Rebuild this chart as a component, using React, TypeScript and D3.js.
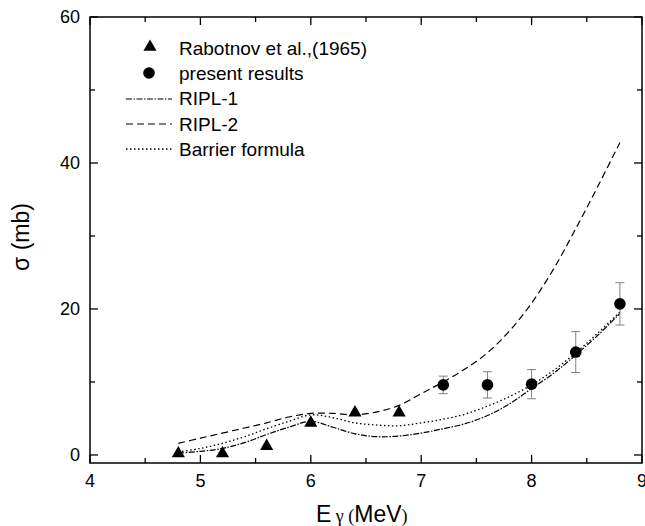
import React from "react";
import * as d3 from "d3";

const energies = [4.8, 5.0, 5.2, 5.4, 5.6, 5.8, 6.0, 6.2, 6.4, 6.6, 6.8, 7.0, 7.2, 7.4, 7.6, 7.8, 8.0, 8.2, 8.4, 8.6, 8.8];
const ripl1 = [0.25, 0.5, 0.9, 1.7, 2.8, 3.8, 4.6, 3.8, 2.9, 2.5, 2.6, 3.0, 3.6, 4.3, 5.4, 7.0, 9.1, 11.2, 13.7, 16.4, 19.4];
const ripl2 = [1.6, 2.3, 3.0, 3.7, 4.4, 5.2, 5.7, 5.7, 5.5, 5.9, 6.8, 8.4, 10.0, 11.8, 14.0, 17.0, 20.8, 25.5, 31.0, 36.8, 42.8];
const barrier = [0.4, 0.9, 1.6, 2.5, 3.6, 4.6, 5.5, 5.1, 4.4, 4.1, 4.0, 4.4, 4.9, 5.6, 6.7, 8.0, 9.6, 11.6, 14.0, 16.7, 19.6];

const rabotnovE = [4.8, 5.2, 5.6, 6.0, 6.4, 6.8];
const rabotnovS = [0.2, 0.2, 1.2, 4.4, 5.8, 5.8];

const presentE = [7.2, 7.6, 8.0, 8.4, 8.8];
const presentS = [9.6, 9.6, 9.7, 14.1, 20.7];
const presentLo = [8.4, 7.8, 7.7, 11.3, 17.8];
const presentHi = [10.8, 11.4, 11.7, 16.9, 23.6];

const xMajor = [4, 5, 6, 7, 8, 9];
const xMinor = [4.5, 5.5, 6.5, 7.5, 8.5];
const yMajor = [0, 20, 40, 60];
const yMinor = [10, 30, 50];

const legendLabels = ["Rabotnov et al.,(1965)", "present results", "RIPL-1", "RIPL-2", "Barrier formula"];

const FONT = "'Liberation Sans', Arial, Helvetica, sans-serif";

export default function App() {
  const L = 90, R = 642, T = 17, B = 463;
  const x = d3.scaleLinear().domain([4, 9]).range([L, R]);
  const y = d3.scaleLinear().domain([-1.1, 60]).range([B, T]);

  const mk = (vals: number[]) =>
    d3.line<number>()
      .x((_, i) => x(energies[i]))
      .y((v) => y(v))
      .curve(d3.curveCatmullRom.alpha(0.5))(vals) as string;

  const dashDot = "6,1.5,1.5,1.5";
  const dashed = "7,4";
  const dotted = "1.5,2.5";
  const tri = d3.symbol().type(d3.symbolTriangle).size(75)() as string;

  const major = 8, minor = 5;

  return (
    <svg width={645} height={526} style={{ position: "absolute", left: 0, top: 0, background: "#fff" }}>
      <rect x={0} y={0} width={645} height={526} fill="#fff" />
      {/* curves */}
      <path d={mk(ripl1)} fill="none" stroke="#000" strokeWidth={1.2} strokeDasharray={dashDot} />
      <path d={mk(ripl2)} fill="none" stroke="#000" strokeWidth={1.2} strokeDasharray={dashed} />
      <path d={mk(barrier)} fill="none" stroke="#000" strokeWidth={1.3} strokeDasharray={dotted} />

      {/* error bars */}
      {presentE.map((e, i) => (
        <g key={"eb" + i} stroke="#808080" strokeWidth={1}>
          <line x1={x(e)} x2={x(e)} y1={y(presentLo[i])} y2={y(presentHi[i])} />
          <line x1={x(e) - 4.5} x2={x(e) + 4.5} y1={y(presentLo[i])} y2={y(presentLo[i])} />
          <line x1={x(e) - 4.5} x2={x(e) + 4.5} y1={y(presentHi[i])} y2={y(presentHi[i])} />
        </g>
      ))}
      {presentE.map((e, i) => (
        <circle key={"c" + i} cx={x(e)} cy={y(presentS[i])} r={5.8} fill="#000" />
      ))}
      {rabotnovE.map((e, i) => (
        <path key={"t" + i} d={tri} transform={`translate(${x(e)},${y(rabotnovS[i])})`} fill="#000" />
      ))}

      {/* frame */}
      <rect x={L} y={T} width={R - L} height={B - T} fill="none" stroke="#000" strokeWidth={1.5} />

      {/* x ticks */}
      {xMajor.map((v) => (
        <g key={"xM" + v} stroke="#000" strokeWidth={1.3}>
          <line x1={x(v)} x2={x(v)} y1={B} y2={B - major} />
          <line x1={x(v)} x2={x(v)} y1={T} y2={T + major} />
        </g>
      ))}
      {xMinor.map((v) => (
        <g key={"xm" + v} stroke="#000" strokeWidth={1.3}>
          <line x1={x(v)} x2={x(v)} y1={B} y2={B - minor} />
          <line x1={x(v)} x2={x(v)} y1={T} y2={T + minor} />
        </g>
      ))}
      {yMajor.map((v) => (
        <g key={"yM" + v} stroke="#000" strokeWidth={1.3}>
          <line x1={L} x2={L + major} y1={y(v)} y2={y(v)} />
          <line x1={R} x2={R - major} y1={y(v)} y2={y(v)} />
        </g>
      ))}
      {yMinor.map((v) => (
        <g key={"ym" + v} stroke="#000" strokeWidth={1.3}>
          <line x1={L} x2={L + minor} y1={y(v)} y2={y(v)} />
          <line x1={R} x2={R - minor} y1={y(v)} y2={y(v)} />
        </g>
      ))}

      {/* tick labels */}
      {xMajor.map((v) => (
        <text key={"xl" + v} x={x(v)} y={487} textAnchor="middle" fontFamily={FONT} fontSize={18} fill="#000">
          {v}
        </text>
      ))}
      {yMajor.map((v) => (
        <text key={"yl" + v} x={80} y={y(v)} dy="0.35em" textAnchor="end" fontFamily={FONT} fontSize={18} fill="#000">
          {v}
        </text>
      ))}

      {/* axis titles */}
      <text x={316} y={522} fontFamily={FONT} fontSize={23} fill="#000">
        <tspan>E</tspan>
        <tspan fontFamily="'Liberation Serif', 'Times New Roman', serif" fontSize={18}> γ (</tspan>
        <tspan>MeV</tspan>
        <tspan fontFamily="'Liberation Serif', 'Times New Roman', serif" fontSize={18}>)</tspan>
      </text>
      <text transform="translate(29,237) rotate(-90)" textAnchor="middle" fontFamily={FONT} fontSize={23} fill="#000">
        σ (mb)
      </text>

      {/* legend */}
      <path d={tri} transform="translate(150,47)" fill="#000" />
      <circle cx={149} cy={73} r={5.8} fill="#000" />
      <line x1={126} x2={172} y1={99} y2={99} stroke="#000" strokeWidth={1.2} strokeDasharray={dashDot} />
      <line x1={126} x2={172} y1={124} y2={124} stroke="#000" strokeWidth={1.2} strokeDasharray={dashed} />
      <line x1={126} x2={172} y1={149} y2={149} stroke="#000" strokeWidth={1.3} strokeDasharray={dotted} />
      {legendLabels.map((lab, i) => (
        <text key={lab} x={179} y={48 + i * 25.3} dy="0.35em" fontFamily={FONT} fontSize={19} fill="#000">
          {lab}
        </text>
      ))}
    </svg>
  );
}
